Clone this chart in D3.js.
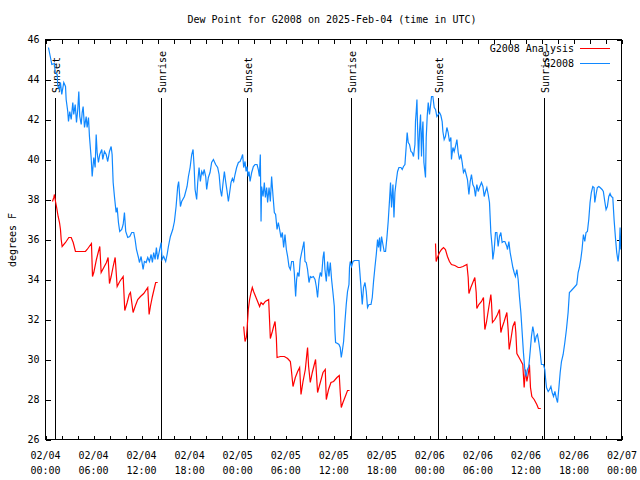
<!DOCTYPE html>
<html><head><meta charset="utf-8">
<script src="https://cdn.jsdelivr.net/npm/d3@7"></script>
<style>body{margin:0;background:#fff}svg{display:block}</style>
</head><body>
<svg id="chart" width="640" height="480"></svg>
<script>
// ---------------- DATA ----------------
const chartTitle = "Dew Point for G2008 on 2025-Feb-04 (time in UTC)";
const yTitle = "degrees F";
const startUTC = Date.UTC(2025, 1, 4, 0, 0);
const spanHours = 72;
const yTicks = [26, 28, 30, 32, 34, 36, 38, 40, 42, 44, 46];
const seriesNames = ["G2008 Analysis", "G2008"];
const seriesColors = ["#ff0000", "#1088ff"];

// sun events: hours after 02/04 00:00 UTC
const sunHours = [1.16, 14.47, 25.2, 38.18, 49.0, 62.27];
const sunLabels = ["Sunset", "Sunrise", "Sunset", "Sunrise", "Sunset", "Sunrise"];

// G2008 observations (hours after start, dew point F)
const blueHours = [
 0.37,0.62,0.79,1.12,1.21,1.46,1.53,1.75,1.87,2.03,
 2.28,2.50,2.58,2.78,2.87,3.03,3.21,3.41,3.53,3.71,
 3.87,4.03,4.16,4.28,4.46,4.58,4.70,4.87,5.08,5.20,
 5.37,5.49,5.70,5.83,6.03,6.20,6.33,6.45,6.61,6.78,
 7.03,7.15,7.36,7.58,7.77,7.99,8.20,8.32,8.45,8.61,
 8.82,8.95,9.11,9.27,9.52,9.70,9.86,10.02,10.27,10.52,
 10.77,11.02,11.19,11.36,11.61,11.73,11.94,12.19,12.35,12.57,
 12.77,12.98,13.19,13.35,13.51,13.69,13.85,14.01,14.26,14.44,
 14.56,14.76,15.01,15.19,15.35,15.60,15.89,16.10,16.31,16.51,
 16.63,16.85,17.01,17.35,17.68,17.85,18.06,18.26,18.43,18.56,
 18.68,18.88,19.01,19.18,19.34,19.51,19.68,19.81,20.01,20.13,
 20.34,20.55,20.75,20.97,21.25,21.50,21.68,21.84,22.00,22.18,
 22.34,22.50,22.68,22.84,23.00,23.17,23.34,23.50,23.67,23.87,
 24.09,24.30,24.50,24.62,24.75,24.92,25.05,25.17,25.30,25.42,
 25.55,25.75,25.96,26.17,26.42,26.58,26.71,26.83,26.92,26.99,
 27.17,27.33,27.46,27.62,27.74,27.92,28.08,28.24,28.42,28.58,
 28.74,28.92,29.08,29.24,29.41,29.58,29.74,29.91,30.08,30.24,
 30.41,30.58,30.74,30.95,31.07,31.24,31.36,31.49,31.66,31.82,
 31.99,32.16,32.28,32.41,32.57,32.73,32.91,33.07,33.23,33.45,
 33.66,33.82,33.98,34.16,34.32,34.48,34.66,34.78,34.90,35.07,
 35.23,35.40,35.57,35.73,35.90,36.07,36.15,36.23,36.48,36.65,
 36.81,36.94,37.06,37.23,37.40,37.56,37.72,37.90,37.97,38.06,
 38.23,38.40,38.60,39.15,39.31,39.47,39.56,39.72,39.90,40.06,
 40.22,40.40,40.65,40.81,40.97,41.14,41.31,41.47,41.59,41.72,
 41.84,41.97,42.14,42.30,42.47,42.64,42.80,42.97,43.09,43.22,
 43.39,43.52,43.64,43.80,43.97,44.14,44.39,44.55,44.71,44.89,
 44.96,45.05,45.17,45.30,45.46,45.64,45.80,45.96,46.14,46.21,
 46.30,46.39,46.46,46.59,46.71,46.84,46.96,47.05,47.14,47.26,
 47.38,47.46,47.55,47.67,47.80,47.96,48.13,48.21,48.38,48.55,
 48.71,48.88,49.05,49.21,49.38,49.54,49.63,49.79,49.95,50.13,
 50.29,50.45,50.63,50.70,50.88,51.04,51.20,51.38,51.54,51.70,
 51.88,52.04,52.20,52.38,52.54,52.70,52.88,53.04,53.20,53.37,
 53.54,53.70,53.87,54.04,54.20,54.45,54.63,54.79,54.95,55.12,
 55.29,55.45,55.62,55.79,55.87,56.04,56.20,56.37,56.53,56.70,
 56.87,57.03,57.20,57.37,57.62,57.70,57.87,58.03,58.19,58.37,
 58.53,58.69,58.87,59.03,59.19,59.37,59.53,59.69,59.86,60.03,
 60.19,60.36,60.53,60.69,60.86,60.99,61.11,61.28,61.44,61.61,
 61.78,61.94,62.19,62.36,62.44,62.57,62.78,62.95,63.12,63.28,
 63.45,63.62,63.78,63.95,64.12,64.28,64.44,64.65,64.86,65.06,
 65.27,65.43,65.68,66.02,66.35,66.52,66.68,66.85,67.01,67.18,
 67.35,67.51,67.68,67.85,68.01,68.17,68.35,68.51,68.60,68.76,
 68.92,69.10,69.26,69.51,69.67,69.85,70.01,70.17,70.35,70.51,
 70.67,70.85,71.01,71.17,71.34,71.51,71.67,71.76,71.85
];
const blueValues = [
 45.6,45.1,44.75,44.8,44.35,44.25,43.7,43.5,43.85,43.25,
 43.85,43.65,43.0,42.4,41.9,42.4,42.0,42.85,42.25,42.75,
 41.85,42.5,43.4,42.15,41.75,42.35,42.65,41.6,42.15,41.6,
 42.1,41.15,40.1,39.15,40.1,39.6,41.25,40.35,39.85,40.25,
 40.5,40.0,40.4,40.25,39.9,40.4,40.65,40.25,38.85,38.15,
 37.35,37.6,36.85,36.4,36.5,36.75,37.35,36.4,36.1,36.15,
 36.35,36.35,36.0,35.5,35.1,34.85,35.15,34.5,34.9,34.85,
 35.1,34.9,35.25,34.85,35.35,35.0,35.6,35.0,35.5,35.85,
 35.0,35.15,34.9,35.25,35.65,36.15,36.5,36.9,37.65,38.65,
 38.9,37.65,37.9,38.15,38.65,39.15,39.6,40.25,40.5,39.65,
 38.5,38.0,38.85,39.6,38.9,39.4,39.25,39.5,39.15,38.5,
 39.1,39.35,39.85,40.0,39.75,39.6,39.25,38.5,38.15,38.85,
 39.4,38.9,38.4,37.9,38.35,38.85,39.05,38.9,39.25,39.6,
 39.85,39.9,40.1,40.25,39.6,39.9,39.4,39.65,39.15,39.4,
 38.9,39.35,39.65,39.75,39.75,39.5,39.15,40.25,36.9,38.65,
 38.15,38.85,38.1,38.6,37.85,38.6,37.9,39.15,38.15,37.35,
 37.25,36.5,36.85,36.5,36.1,36.35,35.6,36.25,35.5,35.15,
 34.65,34.5,34.9,34.9,34.35,33.15,34.0,34.35,34.15,35.0,
 35.35,35.65,35.9,34.9,34.85,34.5,33.85,34.15,34.1,34.15,
 34.0,33.65,33.1,34.0,34.35,34.15,35.1,35.4,34.5,33.9,
 34.9,34.15,34.85,34.0,33.35,32.65,31.4,30.85,30.8,30.75,
 30.6,30.1,30.4,30.9,31.9,32.75,33.4,33.75,34.6,34.9,
 34.65,34.9,34.95,34.95,34.1,33.25,32.75,33.6,33.85,33.4,
 32.6,32.75,32.75,33.1,33.9,34.6,35.25,36.0,35.6,36.1,
 35.4,36.15,35.75,35.4,35.4,36.1,36.9,38.0,38.85,37.6,
 38.75,37.1,38.35,38.9,39.4,39.6,39.6,39.5,39.65,39.75,
 40.15,40.65,41.35,40.85,40.75,40.4,40.35,40.15,40.75,41.9,
 42.4,43.0,41.75,40.0,41.4,42.25,40.15,41.35,41.9,39.85,
 39.4,39.1,41.1,42.15,42.85,42.25,42.85,43.15,43.15,42.6,
 42.5,42.15,42.25,42.35,42.2,41.9,41.4,41.0,41.15,41.6,
 41.35,40.9,41.1,40.0,40.6,40.4,40.65,41.0,40.35,40.0,
 40.25,39.85,39.35,39.5,39.25,39.0,38.25,38.9,39.25,38.75,
 38.6,38.15,38.75,38.4,38.6,38.85,38.65,38.15,38.4,38.6,
 38.25,37.85,36.35,35.6,35.0,35.5,36.35,36.35,35.65,36.15,
 36.35,35.85,35.9,35.9,35.65,35.5,35.9,35.35,35.0,34.6,
 34.35,34.15,34.5,34.0,33.15,32.35,31.35,30.35,29.5,29.15,
 29.5,29.65,30.4,31.15,31.65,31.35,30.85,31.15,31.25,30.85,
 30.35,29.75,29.75,29.5,29.1,28.6,28.4,28.5,28.65,28.35,
 28.15,28.4,28.1,27.85,28.6,29.35,29.9,30.25,30.85,31.5,
 32.35,33.35,33.45,33.6,33.75,34.35,34.6,35.0,35.5,36.25,
 35.9,36.35,36.4,37.0,37.85,38.35,38.65,38.6,37.85,38.25,
 38.6,38.65,38.6,38.5,38.4,37.9,37.5,37.65,38.15,38.3,
 38.15,38.1,37.0,36.15,35.35,34.9,35.5,36.6,35.5
];

// G2008 Analysis (null = no analysis, gap in line)
const redHours = [
 0.87,1.04,1.12,1.25,1.37,1.58,1.75,1.87,1.96,2.08,
 2.50,2.91,3.21,3.46,3.74,4.99,5.20,5.74,5.87,6.03,
 6.36,6.58,6.78,6.95,7.28,7.61,7.82,7.99,8.20,8.45,
 8.70,8.95,9.27,9.70,9.90,10.20,10.45,10.61,10.94,11.19,
 11.52,11.86,12.27,12.77,12.94,13.10,13.35,13.64,13.76,14.01,
 19.00,
 24.75,24.92,25.08,25.17,25.33,25.49,25.67,25.83,25.99,26.24,
 26.49,26.74,26.92,27.17,27.45,27.87,27.99,28.08,28.33,28.49,
 28.67,28.83,28.92,29.33,29.83,30.24,30.58,30.70,30.91,31.20,
 31.49,31.74,31.91,32.16,32.45,32.66,32.73,32.86,33.07,33.32,
 33.57,33.73,33.98,34.32,34.66,34.94,35.07,35.35,35.65,35.98,
 36.40,36.69,36.81,36.94,37.15,37.44,37.72,37.97,
 43.00,
 48.71,48.79,48.95,49.21,49.46,49.71,49.95,50.20,50.45,50.70,
 51.13,51.54,51.79,52.13,52.63,52.79,52.88,53.12,53.37,53.62,
 53.79,53.87,54.12,54.45,54.70,54.79,54.87,55.07,55.32,55.62,
 55.70,55.82,56.12,56.45,56.70,56.87,57.03,57.28,57.62,57.78,
 57.91,58.12,58.37,58.62,58.74,58.87,59.28,59.61,59.78,59.94,
 60.12,60.32,60.44,60.57,60.74,61.03,61.36,61.56,61.86
];
const redValues = [
 37.9,38.1,38.25,37.9,37.65,37.15,36.85,36.5,36.0,35.65,
 35.85,36.1,36.1,35.85,35.4,35.4,35.5,35.8,34.15,34.35,
 35.0,35.35,35.65,34.35,34.6,34.85,35.1,33.8,34.15,34.65,
 35.1,33.65,33.9,34.15,32.45,32.85,33.25,33.35,32.35,32.65,
 33.0,33.15,33.3,33.6,32.25,32.65,33.15,33.65,33.85,33.85,
 null,
 31.65,30.9,31.1,31.5,32.5,33.0,33.35,33.6,33.4,33.15,
 32.9,32.65,32.85,32.75,32.9,33.0,31.9,31.05,31.4,31.65,
 31.9,31.1,30.1,30.15,30.15,30.05,29.9,29.5,28.65,29.1,
 29.4,29.6,28.25,28.9,29.5,30.35,30.6,29.65,28.85,29.35,
 29.75,30.0,28.35,28.85,29.35,29.5,28.0,28.5,28.85,28.9,
 29.1,29.2,28.35,27.6,27.85,28.15,28.45,28.45,
 null,
 35.8,34.9,35.1,35.35,35.5,35.6,35.5,35.15,34.9,34.75,
 34.7,34.6,34.6,34.65,34.75,34.1,33.3,33.6,33.85,34.1,
 33.35,32.55,32.75,32.9,33.1,32.15,31.5,31.85,32.5,33.25,
 32.85,31.85,32.0,32.25,32.5,31.35,31.6,31.9,32.35,31.5,
 30.5,31.0,31.65,31.9,31.35,30.3,30.0,29.75,28.6,29.5,
 28.9,29.35,29.75,28.6,28.15,28.0,27.75,27.55,27.55
];

// ---------------- DRAW ----------------
const FONT = "'DejaVu Sans Mono', 'Liberation Mono', monospace";
const svg = d3.select("#chart");
svg.append("rect").attr("width", 640).attr("height", 480).attr("fill", "#fff");

const toDate = h => new Date(startUTC + h * 3600e3);
const t0 = new Date(startUTC), t1 = toDate(spanHours);
const x = d3.scaleUtc().domain([t0, t1]).range([45.5, 622]);
const y = d3.scaleLinear().domain([26, 46]).range([439.5, 39.5]);

const [xl, xr] = x.range();
const [yb, yt] = y.range();

// title
svg.append("text").attr("x", 332).attr("y", 23).attr("text-anchor", "middle")
  .attr("font-family", FONT).attr("font-size", 10).attr("fill", "#000").text(chartTitle);
// y title
svg.append("text").attr("transform", "translate(16,240) rotate(-90)").attr("text-anchor", "middle")
  .attr("font-family", FONT).attr("font-size", 10).attr("fill", "#000").text(yTitle);

// axes (ticks inward)
const tick2h = d3.utcHour.every(2).range(t0, new Date(+t1 + 1));
const tick6h = d3.utcHour.every(6).range(t0, new Date(+t1 + 1));

function styleAxis(g) {
  g.select(".domain").remove();
  g.selectAll(".tick line").attr("stroke", "#000").attr("shape-rendering", "crispEdges");
  g.attr("font-family", FONT).attr("font-size", 10);
  g.selectAll(".tick text").attr("fill", "#000");
}
svg.append("g").attr("transform", `translate(0,${yb})`)
  .call(d3.axisBottom(x).tickValues(tick2h).tickSize(-4).tickSizeOuter(0).tickFormat(""))
  .call(styleAxis);
svg.append("g").attr("transform", `translate(0,${yt})`)
  .call(d3.axisTop(x).tickValues(tick2h).tickSize(-4).tickSizeOuter(0).tickFormat(""))
  .call(styleAxis);
svg.append("g").attr("transform", `translate(${xl},0)`)
  .call(d3.axisLeft(y).tickValues(yTicks).tickSize(-5).tickSizeOuter(0).tickPadding(6).tickFormat(d3.format("d")))
  .call(styleAxis);
svg.append("g").attr("transform", `translate(${xr - 0.5},0)`)
  .call(d3.axisRight(y).tickValues(yTicks).tickSize(-5).tickSizeOuter(0).tickFormat(""))
  .call(styleAxis);

// x labels (two lines)
const fmtDay = d3.utcFormat("%m/%d"), fmtTime = d3.utcFormat("%H:%M");
const xlab = svg.append("g").attr("font-family", FONT).attr("font-size", 10).attr("fill", "#000");
tick6h.forEach(t => {
  const tx = xlab.append("text").attr("x", x(t)).attr("y", 459).attr("text-anchor", "middle");
  tx.append("tspan").attr("x", x(t)).attr("y", 459).text(fmtDay(t));
  tx.append("tspan").attr("x", x(t)).attr("y", 474).text(fmtTime(t));
});

// sunrise / sunset
const sunG = svg.append("g");
sunHours.forEach((h, i) => {
  const sx = Math.round(x(toDate(h))) + 0.5;
  sunG.append("line").attr("x1", sx).attr("x2", sx).attr("y1", 98).attr("y2", yb)
    .attr("stroke", "#000").attr("stroke-width", 1).attr("shape-rendering", "crispEdges");
  sunG.append("text").attr("transform", `translate(${sx + 4},93) rotate(-90)`)
    .attr("font-family", FONT).attr("font-size", 10).attr("fill", "#000").text(sunLabels[i]);
});

// series
const blueData = blueHours.map((h, i) => ({ t: toDate(h), v: blueValues[i] }));
const redData = redHours.map((h, i) => ({ t: toDate(h), v: redValues[i] }));
const line = d3.line().defined(d => d.v != null).x(d => x(d.t)).y(d => y(d.v));

svg.append("path").datum(redData).attr("d", line).attr("fill", "none")
  .attr("stroke", seriesColors[0]).attr("stroke-width", 1.2);
svg.append("path").datum(blueData).attr("d", line).attr("fill", "none")
  .attr("stroke", seriesColors[1]).attr("stroke-width", 1.2);

// frame
svg.append("rect").attr("x", xl).attr("y", yt).attr("width", xr - xl - 0.5).attr("height", yb - yt)
  .attr("fill", "none").attr("stroke", "#000").attr("shape-rendering", "crispEdges");

// legend
const leg = svg.append("g").attr("font-family", FONT).attr("font-size", 10);
seriesNames.forEach((name, i) => {
  const ly = 48.5 + i * 15;
  leg.append("text").attr("x", 574).attr("y", ly + 3.5).attr("text-anchor", "end").attr("fill", "#000").text(name);
  leg.append("line").attr("x1", 580).attr("x2", 610).attr("y1", ly).attr("y2", ly)
    .attr("stroke", seriesColors[i]).attr("stroke-width", 1.1).attr("shape-rendering", "crispEdges");
});
</script>
</body></html>
